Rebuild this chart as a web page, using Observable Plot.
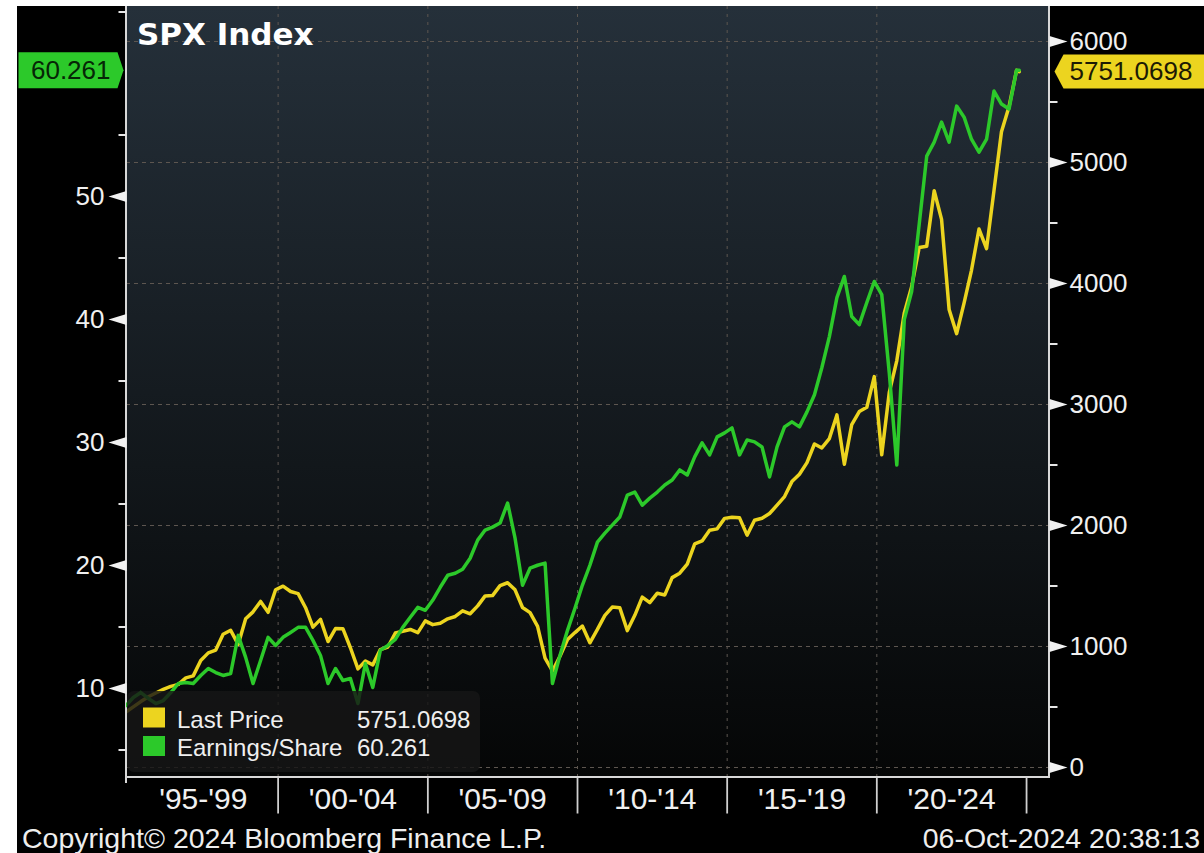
<!DOCTYPE html>
<html>
<head>
<meta charset="utf-8">
<script src="https://cdn.jsdelivr.net/npm/d3@7"></script>
<script src="https://cdn.jsdelivr.net/npm/@observablehq/plot@0.6"></script>
<style>
  html, body { margin: 0; padding: 0; background: #fff; overflow: hidden; }
  #wrap { position: relative; width: 1204px; height: 853px; }
  #black { position: absolute; left: 17px; top: 6px; width: 1187px; height: 847px; background: #000; }
  .layer { position: absolute; left: 0; top: 0; width: 1204px; height: 853px; }
  .layer svg { display: block; }
</style>
</head>
<body>
<div id="wrap">
  <div id="black"></div>
  <div class="layer" id="p1"></div>
  <div class="layer" id="p2"></div>
  <div class="layer" id="annot"></div>
</div>
<script>
// ---------------- DATA ----------------
// SPX quarterly last price: Dec-1994, 1995Q1 ... 2024Q3, then latest (06-Oct-2024)
const priceValues = [
  459.27,
  500.71, 544.75, 584.41, 615.93,
  645.50, 670.63, 687.33, 740.74,
  757.12, 885.14, 947.28, 970.43,
  1101.75, 1133.84, 1017.01, 1229.23,
  1286.37, 1372.71, 1282.71, 1469.25,
  1498.58, 1454.60, 1436.51, 1320.28,
  1160.33, 1224.42, 1040.94, 1148.08,
  1147.39, 989.82, 815.28, 879.82,
  848.18, 974.50, 995.97, 1111.92,
  1126.21, 1140.84, 1114.58, 1211.92,
  1180.59, 1191.33, 1228.81, 1248.29,
  1294.83, 1270.20, 1335.85, 1418.30,
  1420.86, 1503.35, 1526.75, 1468.36,
  1322.70, 1280.00, 1166.36, 903.25,
  797.87, 919.32, 1057.08, 1115.10,
  1169.43, 1030.71, 1141.20, 1257.64,
  1325.83, 1320.64, 1131.42, 1257.60,
  1408.47, 1362.16, 1440.67, 1426.19,
  1569.19, 1606.28, 1681.55, 1848.36,
  1872.34, 1960.23, 1972.29, 2058.90,
  2067.89, 2063.11, 1920.03, 2043.94,
  2059.74, 2098.86, 2168.27, 2238.83,
  2362.72, 2423.41, 2519.36, 2673.61,
  2640.87, 2718.37, 2913.98, 2506.85,
  2834.40, 2941.76, 2976.74, 3230.78,
  2584.59, 3100.29, 3363.00, 3756.07,
  3972.89, 4297.50, 4307.54, 4766.18,
  4530.41, 3785.38, 3585.62, 3839.50,
  4109.31, 4450.38, 4288.05, 4769.83,
  5254.35, 5460.48, 5762.48,
  5751.0698
];
// Earnings/Share, same periods
const epsValues = [
  8.61, 9.27, 9.67, 9.19, 8.78, 9.02, 9.67, 10.41, 10.49, 10.41,
  11.06, 11.63, 11.30, 11.06, 11.22, 14.32, 12.53, 10.41, 12.28, 14.16,
  13.50, 14.16, 14.56, 14.97, 14.97, 13.91, 12.69, 10.41, 11.63, 10.65,
  10.81, 8.78, 12.04, 10.08, 13.10, 13.50, 13.99, 14.97, 15.79, 16.60,
  16.36, 17.17, 18.23, 19.21, 19.37, 19.70, 20.59, 22.06, 22.88, 23.12,
  23.45, 25.08, 22.22, 18.39, 19.78, 20.02, 20.19, 10.41, 12.69, 14.73,
  16.52, 18.39, 20.02, 21.90, 22.63, 23.28, 23.94, 25.73, 25.97, 24.91,
  25.48, 25.97, 26.54, 26.95, 27.77, 27.36, 28.83, 29.97, 28.99, 30.46,
  30.78, 31.19, 28.99, 30.21, 30.05, 29.64, 27.20, 29.64, 31.27, 31.68,
  31.27, 32.49, 33.88, 36.08, 38.61, 41.78, 43.50, 40.24, 39.58, 41.38,
  43.09, 42.03, 35.67, 28.17, 39.99, 42.27, 47.73, 53.28, 54.42, 56.05,
  54.42, 57.35, 56.45, 54.66, 53.60, 54.66, 58.57, 57.52, 57.11, 60.26,
  60.261
];
const lastPrice = 5751.0698;
const lastEps = 60.261;
const lastDate = new Date(Date.UTC(2024, 9, 4));

const xLabels = ["'95-'99", "'00-'04", "'05-'09", "'10-'14", "'15-'19", "'20-'24"];
const xLabelYears = [1995, 2000, 2005, 2010, 2015, 2020];
const xBoundaryYears = [2000, 2005, 2010, 2015, 2020, 2025];
const priceMajor = [0, 1000, 2000, 3000, 4000, 5000, 6000];
const priceMinor = [500, 1500, 2500, 3500, 4500, 5500];
const epsMajor = [10, 20, 30, 40, 50];
const epsMinor = [5, 15, 25, 35, 45, 55, 65];

const seriesNames = ["Last Price", "Earnings/Share"];
const YELLOW = "#ecd41f";
const GREEN = "#2cc92a";

// ---------------- HELPERS ----------------
const W = 1204, H = 853;
const dims = {width: W, height: H, marginLeft: 126, marginRight: 155, marginTop: 6, marginBottom: 76};
const xDomain = [new Date(Date.UTC(1994, 11, 8)), new Date(Date.UTC(2025, 9, 8))];

// quarterly points plotted at the first day of each quarter's last month
const dates = priceValues.map((_, i) => i < priceValues.length - 1 ? new Date(Date.UTC(1995, 3 * i - 1, 1)) : lastDate);
const priceData = priceValues.map((v, i) => ({date: dates[i], value: v}));
const epsData = epsValues.map((v, i) => ({date: dates[i], value: v}));

const xMids = xLabelYears.map(y => new Date(Date.UTC(y + 2, 6, 2)));
const xBounds = xBoundaryYears.map(y => new Date(Date.UTC(y, 0, 1)));
const gridYears = [2000, 2005, 2010, 2015, 2020].map(y => new Date(Date.UTC(y, 0, 1)));

const sym = (pts) => ({draw(ctx) { ctx.moveTo(pts[0][0], pts[0][1]); for (let k = 1; k < pts.length; ++k) ctx.lineTo(pts[k][0], pts[k][1]); ctx.closePath(); }});
const triRight = sym([[0, -5.5], [18, 0], [0, 5.5]]);
const triLeft = sym([[0, -5.5], [-18, 0], [0, 5.5]]);
const minorRight = sym([[0, -1], [8, -1], [8, 1], [0, 1]]);
const minorLeft = sym([[0, -1], [-8, -1], [-8, 1], [0, 1]]);
const sepTick = sym([[-0.9, 0], [0.9, 0], [0.9, 36], [-0.9, 36]]);
const tagRight = sym([[5, 0], [14, -17], [170, -17], [170, 17], [14, 17]]);
const tagLeft = sym([[-3, 0], [-9, -18], [-108, -18], [-108, 18], [-9, 18]]);

function background(index, scales, values, d) {
  const g = d3.create("svg:g");
  const lg = g.append("defs").append("linearGradient").attr("id", "bggrad")
    .attr("x1", 0).attr("y1", 0).attr("x2", 0).attr("y2", 1);
  lg.append("stop").attr("offset", "0%").attr("stop-color", "#25303a");
  lg.append("stop").attr("offset", "100%").attr("stop-color", "#050606");
  g.append("rect")
    .attr("x", d.marginLeft).attr("y", d.marginTop)
    .attr("width", d.width - d.marginLeft - d.marginRight)
    .attr("height", d.height - d.marginTop - d.marginBottom)
    .attr("fill", "url(#bggrad)");
  return g.node();
}
function frameLines(index, scales, values, d) {
  const l = d.marginLeft, r = d.width - d.marginRight, t = d.marginTop, b = d.height - d.marginBottom;
  const g = d3.create("svg:g").attr("stroke", "#d8d8d8").attr("stroke-width", 2);
  g.append("line").attr("x1", l).attr("x2", l).attr("y1", t).attr("y2", b + 6);
  g.append("line").attr("x1", r).attr("x2", r).attr("y1", t).attr("y2", b);
  g.append("line").attr("x1", l - 1).attr("x2", r + 1).attr("y1", b).attr("y2", b);
  return g.node();
}

const common = {
  ...dims,
  style: {background: "transparent", overflow: "visible", fontFamily: "'Liberation Sans', Arial, sans-serif", fontSize: "26px", color: "#f0f0f0"}
};
const xScale = {type: "utc", domain: xDomain};

// ---------------- PLOT 1: price (right axis) ----------------
const p1 = Plot.plot({
  ...common,
  x: xScale,
  y: {domain: [0, 6000], range: [767, 41]},
  marks: [
    background,
    Plot.gridY(priceMajor, {stroke: "#5d5650", strokeOpacity: 1, strokeWidth: 1, strokeDasharray: "4,4"}),
    Plot.gridX(gridYears, {stroke: "#5d5650", strokeOpacity: 1, strokeWidth: 1, strokeDasharray: "3,5"}),
    Plot.line(priceData, {x: "date", y: "value", stroke: YELLOW, strokeWidth: 3.5, strokeLinejoin: "round", clip: true}),
    frameLines,
    Plot.dot(priceMajor, {y: d => d, frameAnchor: "right", symbol: triRight, fill: "#f2f2f2"}),
    Plot.dot(priceMinor, {y: d => d, frameAnchor: "right", symbol: minorRight, fill: "#e6e6e6"}),
    Plot.axisY({anchor: "right", ticks: priceMajor, tickSize: 0, tickPadding: 20, tickFormat: d => String(d), fontSize: 26, color: "#f0f0f0", label: null}),
    Plot.dot(xBounds, {x: d => d, frameAnchor: "bottom", symbol: sepTick, fill: "#cfcfcf"}),
    Plot.axisX({anchor: "bottom", ticks: xMids, tickSize: 0, tickPadding: 10,
      tickFormat: d => xLabels[xMids.findIndex(m => +m === +d)], fontSize: 30, color: "#f0f0f0", label: null}),
    Plot.dot([lastPrice], {y: d => d, frameAnchor: "right", symbol: tagRight, fill: YELLOW}),
    Plot.text([lastPrice], {y: d => d, frameAnchor: "right", dx: 20, textAnchor: "start",
      text: d => d.toFixed(4), fill: "#1c1a04", fontSize: 26})
  ]
});
document.getElementById("p1").appendChild(p1);

// ---------------- PLOT 2: EPS (left axis) ----------------
const p2 = Plot.plot({
  ...common,
  x: {...xScale, axis: null},
  y: {domain: [10, 60], range: [688, 73]},
  marks: [
    Plot.line(epsData, {x: "date", y: "value", stroke: GREEN, strokeWidth: 3.5, strokeLinejoin: "round", clip: true}),
    Plot.dot(epsMajor, {y: d => d, frameAnchor: "left", symbol: triLeft, fill: "#f2f2f2"}),
    Plot.dot(epsMinor, {y: d => d, frameAnchor: "left", symbol: minorLeft, fill: "#e6e6e6"}),
    Plot.axisY({anchor: "left", ticks: epsMajor, tickSize: 0, tickPadding: 22, tickFormat: d => String(d), fontSize: 26, color: "#f0f0f0", label: null}),
    Plot.dot([lastEps], {y: d => d, frameAnchor: "left", symbol: tagLeft, fill: GREEN}),
    Plot.text([lastEps], {y: d => d, frameAnchor: "left", dx: -16, textAnchor: "end",
      text: d => d.toFixed(3), fill: "#062606", fontSize: 26})
  ]
});
document.getElementById("p2").appendChild(p2);

// ---------------- Title, legend, caption ----------------
const svg = d3.select("#annot").append("svg").attr("width", W).attr("height", H);
svg.append("text").attr("x", 137).attr("y", 45).text("SPX Index")
  .attr("fill", "#ffffff").style("font", "bold 31px 'DejaVu Sans', sans-serif");

const lg = svg.append("g");
lg.append("rect").attr("x", 127).attr("y", 691).attr("width", 353).attr("height", 81).attr("rx", 7)
  .attr("fill", "#161616").attr("fill-opacity", 0.82);
const legendRows = [
  {name: seriesNames[0], color: YELLOW, value: lastPrice.toFixed(4), y: 727.5},
  {name: seriesNames[1], color: GREEN, value: lastEps.toFixed(3), y: 756}
];
legendRows.forEach(r => {
  lg.append("rect").attr("x", 143).attr("y", r.y - 20).attr("width", 22).attr("height", 20).attr("fill", r.color);
  lg.append("text").attr("x", 177).attr("y", r.y).text(r.name)
    .attr("fill", "#efefef").style("font", "24px 'Liberation Sans', Arial, sans-serif");
  lg.append("text").attr("x", 357).attr("y", r.y).text(r.value)
    .attr("fill", "#efefef").style("font", "24px 'Liberation Sans', Arial, sans-serif");
});

svg.append("text").attr("x", 22).attr("y", 848).text("Copyright\u00A9 2024 Bloomberg Finance L.P.")
  .attr("fill", "#eeeeee").style("font", "28.5px 'Liberation Sans', Arial, sans-serif");
svg.append("text").attr("x", 1200).attr("y", 848).attr("text-anchor", "end").text("06-Oct-2024 20:38:13")
  .attr("fill", "#eeeeee").style("font", "28.5px 'Liberation Sans', Arial, sans-serif");
</script>
</body>
</html>
